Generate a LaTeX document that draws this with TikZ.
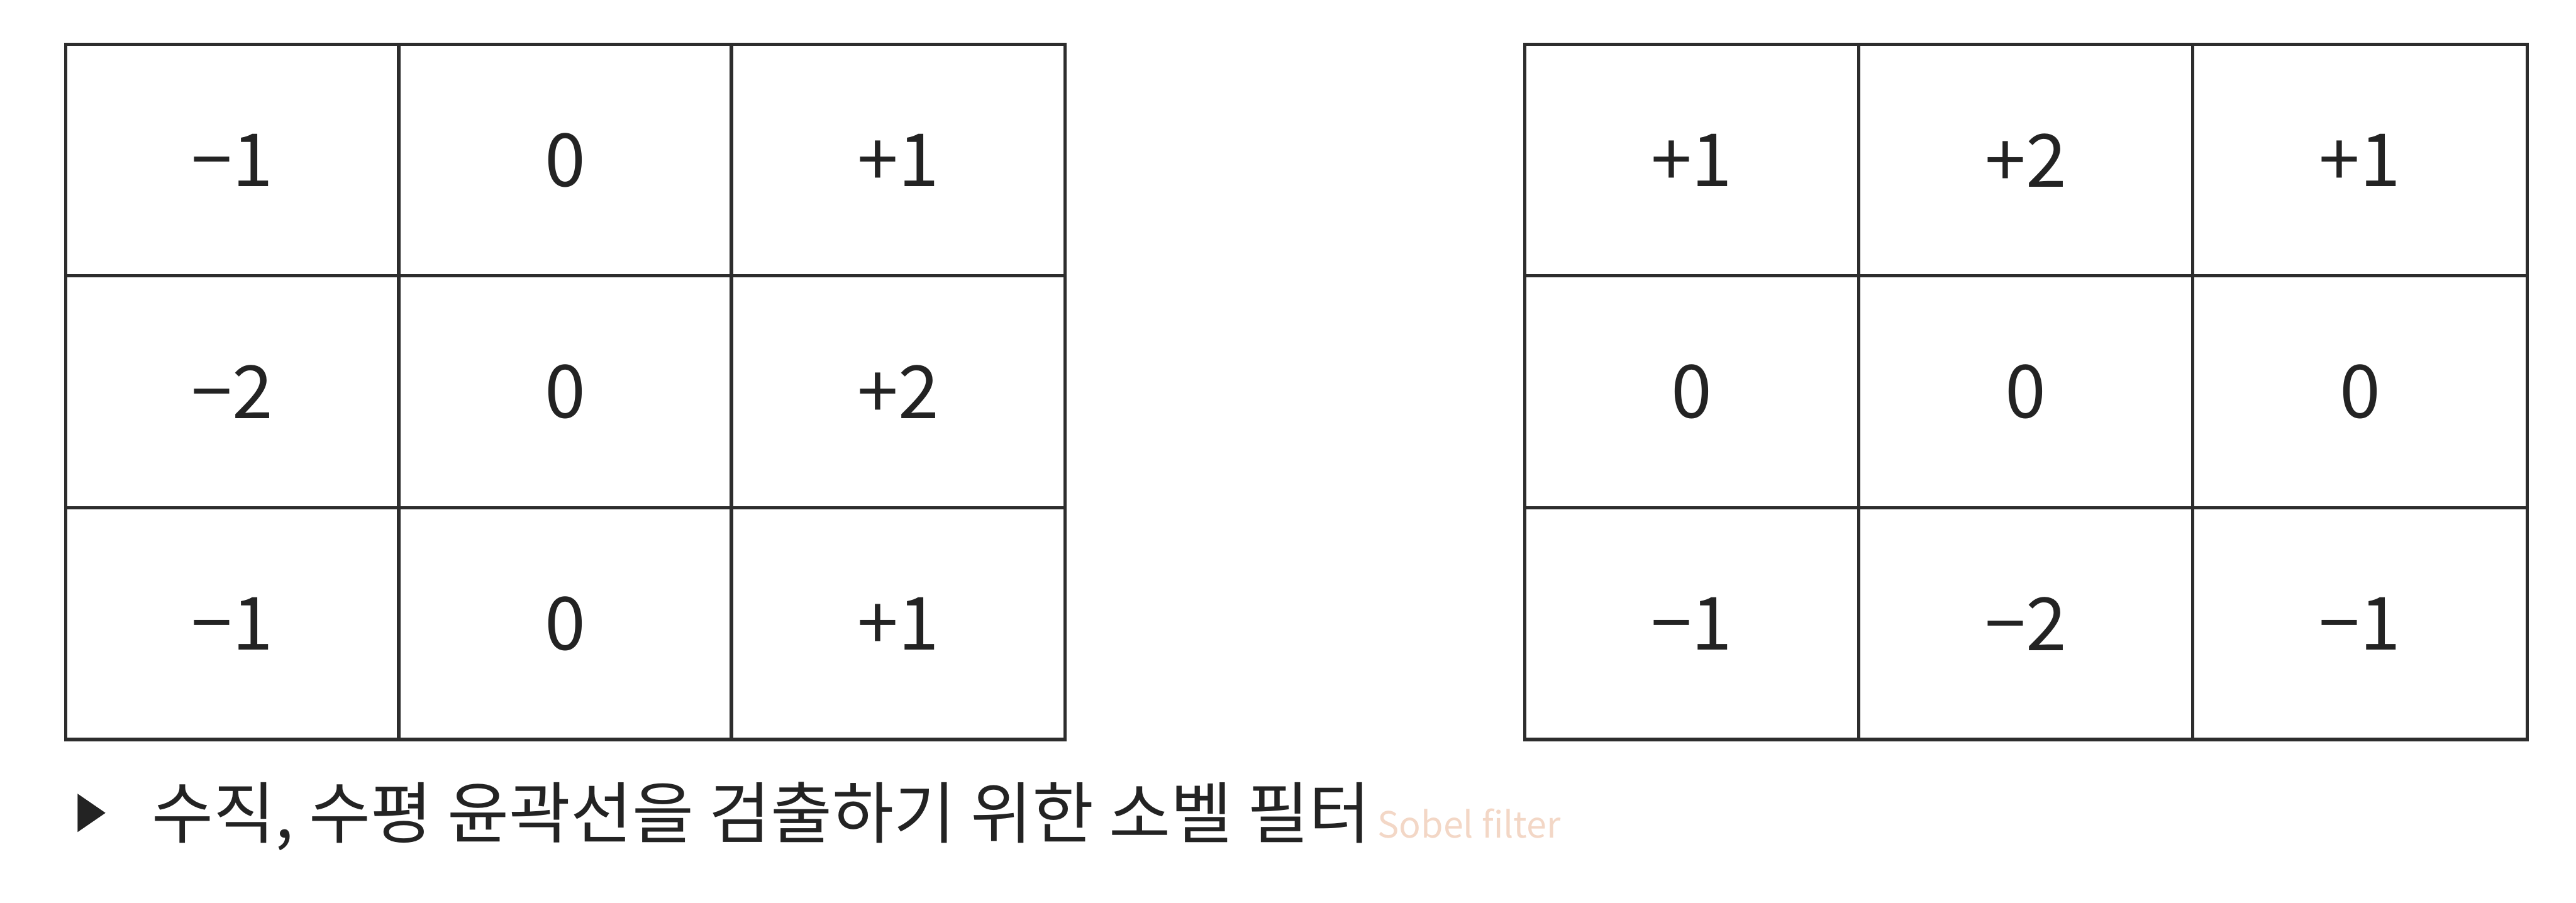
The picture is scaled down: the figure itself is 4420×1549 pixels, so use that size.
\documentclass[tikz,border=0pt]{standalone}
\usepackage{fontspec}
\setmainfont{Noto Sans CJK KR}
\newfontfamily\kr{Noto Sans CJK KR}
\definecolor{ink}{RGB}{35,35,35}
\definecolor{gridline}{RGB}{45,45,45}
\definecolor{peach}{RGB}{243,215,198}
\begin{document}
\begin{tikzpicture}[x=0.1pt,y=-0.1pt,
  cellbox/.style={draw=gridline,line width=0.55pt,rectangle,inner sep=0pt,
    minimum width=57.2pt,minimum height=39.77pt,text=ink,
    font=\kr\fontsize{12.6pt}{14pt}\selectfont},
  cellboxr/.style={cellbox,minimum width=57.33pt}]
\useasboundingbox (0,0) rectangle (4420,1549);
% left grid
\foreach \r/\a/\b/\c [count=\i] in {0/{−1}/0/{+1},1/{−2}/0/{+2},2/{−1}/0/{+1}}{
  \node[cellbox] (L\i a) at (399,{274.8+397.7*\r}) {\a};
  \node[cellbox] (L\i b) at (970,{274.8+397.7*\r}) {\b};
  \node[cellbox] (L\i c) at (1541,{274.8+397.7*\r}) {\c};
}
% right grid
\foreach \r/\a/\b/\c [count=\i] in {0/{+1}/{+2}/{+1},1/0/0/0,2/{−1}/{−2}/{−1}}{
  \node[cellboxr] (R\i a) at (2902.7,{274.8+397.7*\r}) {\a};
  \node[cellboxr] (R\i b) at (3476,{274.8+397.7*\r}) {\b};
  \node[cellboxr] (R\i c) at (4049.3,{274.8+397.7*\r}) {\c};
}
% caption
\fill[ink] (133,1362) -- (181,1395) -- (133,1428) -- cycle;
\node[anchor=base west,inner sep=0pt,text=ink,font=\kr\fontsize{11.5pt}{13pt}\selectfont] (cap) at (259,1438)
  {수직, 수평 윤곽선을 검출하기 위한 소벨 필터};
\node[anchor=base west,inner sep=0pt,text=peach,font=\kr\fontsize{6.2pt}{8pt}\selectfont,xshift=0.8pt] (sob) at (cap.base east)
  {Sobel filter};
\end{tikzpicture}
\end{document}
